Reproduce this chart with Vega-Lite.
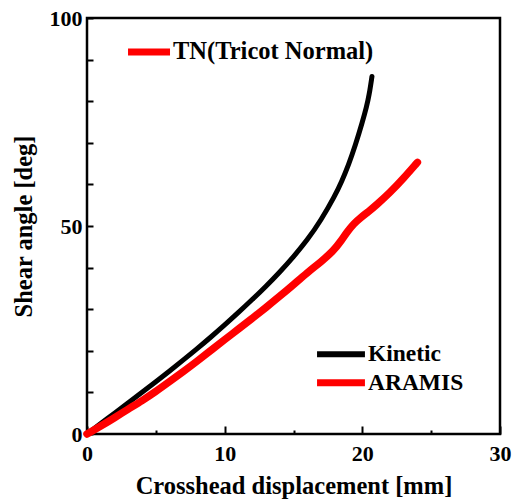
{
  "$schema": "https://vega.github.io/schema/vega-lite/v6.json",
  "width": 413,
  "height": 416,
  "autosize": {"type": "none"},
  "padding": {"left": 87, "top": 18, "right": 12, "bottom": 66},
  "background": "white",
  "config": {
    "view": {"stroke": "black", "strokeWidth": 2.5},
    "font": "Liberation Serif",
    "legend": {"disable": true},
    "axis": {
      "domain": false,
      "grid": false,
      "tickColor": "black",
      "tickWidth": 2,
      "labelColor": "black",
      "labelFont": "Liberation Serif",
      "labelFontSize": 22,
      "labelFontWeight": "bold",
      "titleColor": "black",
      "titleFont": "Liberation Serif",
      "titleFontSize": 24.5,
      "titleFontWeight": "bold",
      "labelOverlap": false,
      "labelFlush": false
    }
  },
  "datasets": {
    "curves": [
      {"series": "Kinetic", "x": 0, "y": 0},
      {"series": "Kinetic", "x": 1, "y": 2.5},
      {"series": "Kinetic", "x": 2, "y": 5.0},
      {"series": "Kinetic", "x": 3, "y": 7.5},
      {"series": "Kinetic", "x": 4, "y": 10.0},
      {"series": "Kinetic", "x": 5, "y": 12.55},
      {"series": "Kinetic", "x": 6, "y": 15.15},
      {"series": "Kinetic", "x": 7, "y": 17.8},
      {"series": "Kinetic", "x": 8, "y": 20.5},
      {"series": "Kinetic", "x": 9, "y": 23.3},
      {"series": "Kinetic", "x": 10, "y": 26.2},
      {"series": "Kinetic", "x": 11, "y": 29.2},
      {"series": "Kinetic", "x": 12, "y": 32.3},
      {"series": "Kinetic", "x": 13, "y": 35.5},
      {"series": "Kinetic", "x": 14, "y": 38.9},
      {"series": "Kinetic", "x": 15, "y": 42.6},
      {"series": "Kinetic", "x": 16, "y": 46.6},
      {"series": "Kinetic", "x": 17, "y": 51.4},
      {"series": "Kinetic", "x": 18, "y": 57.2},
      {"series": "Kinetic", "x": 18.5, "y": 60.7},
      {"series": "Kinetic", "x": 19, "y": 64.7},
      {"series": "Kinetic", "x": 19.5, "y": 69.45},
      {"series": "Kinetic", "x": 20, "y": 74.95},
      {"series": "Kinetic", "x": 20.3, "y": 78.55},
      {"series": "Kinetic", "x": 20.5, "y": 81.55},
      {"series": "Kinetic", "x": 20.7, "y": 85.95},
      {"series": "ARAMIS", "x": 0, "y": 0},
      {"series": "ARAMIS", "x": 1, "y": 1.9},
      {"series": "ARAMIS", "x": 2, "y": 3.9},
      {"series": "ARAMIS", "x": 3, "y": 6.0},
      {"series": "ARAMIS", "x": 4, "y": 8.0},
      {"series": "ARAMIS", "x": 5, "y": 10.2},
      {"series": "ARAMIS", "x": 6, "y": 12.6},
      {"series": "ARAMIS", "x": 7, "y": 15.0},
      {"series": "ARAMIS", "x": 8, "y": 17.5},
      {"series": "ARAMIS", "x": 9, "y": 20.1},
      {"series": "ARAMIS", "x": 10, "y": 22.7},
      {"series": "ARAMIS", "x": 11, "y": 25.2},
      {"series": "ARAMIS", "x": 12, "y": 27.8},
      {"series": "ARAMIS", "x": 13, "y": 30.4},
      {"series": "ARAMIS", "x": 14, "y": 33.1},
      {"series": "ARAMIS", "x": 15, "y": 35.9},
      {"series": "ARAMIS", "x": 16, "y": 38.8},
      {"series": "ARAMIS", "x": 17, "y": 41.4},
      {"series": "ARAMIS", "x": 17.9, "y": 44.0},
      {"series": "ARAMIS", "x": 18.5, "y": 46.6},
      {"series": "ARAMIS", "x": 18.9, "y": 48.6},
      {"series": "ARAMIS", "x": 19.4, "y": 50.6},
      {"series": "ARAMIS", "x": 19.8, "y": 51.8},
      {"series": "ARAMIS", "x": 20.5, "y": 53.6},
      {"series": "ARAMIS", "x": 21, "y": 55.0},
      {"series": "ARAMIS", "x": 22, "y": 58.0},
      {"series": "ARAMIS", "x": 23, "y": 61.5},
      {"series": "ARAMIS", "x": 24, "y": 65.3}
    ],
    "note": [{"label": "TN(Tricot Normal)"}],
    "keyKinetic": [{"label": "Kinetic"}],
    "keyAramis": [{"label": "ARAMIS"}]
  },
  "layer": [
    {
      "data": {"name": "curves"},
      "mark": {"type": "line", "strokeCap": "round", "strokeJoin": "round", "interpolate": "basis"},
      "encoding": {
        "x": {
          "field": "x", "type": "quantitative",
          "scale": {"domain": [0, 30], "nice": false, "zero": false},
          "axis": {
            "title": "Crosshead displacement [mm]",
            "values": [0, 5, 10, 15, 20, 25, 30],
            "labelExpr": "datum.value % 10 === 0 ? datum.label : ''",
            "tickSize": {"condition": {"test": "datum.value % 10 === 0", "value": -8}, "value": -4},
            "labelPadding": 17,
            "titlePadding": 6
          }
        },
        "y": {
          "field": "y", "type": "quantitative",
          "scale": {"domain": [0, 100], "nice": false, "zero": false},
          "axis": {
            "title": "Shear angle [deg]",
            "values": [0, 10, 20, 30, 40, 50, 60, 70, 80, 90, 100],
            "labelExpr": "datum.value % 50 === 0 ? datum.label : ''",
            "tickSize": -6,
            "labelPadding": 11,
            "titlePadding": 13
          }
        },
        "color": {
          "field": "series", "type": "nominal",
          "scale": {"domain": ["Kinetic", "ARAMIS"], "range": ["black", "#ff0000"]}
        },
        "strokeWidth": {
          "field": "series", "type": "nominal",
          "scale": {"domain": ["Kinetic", "ARAMIS"], "range": [5, 7.5]}
        }
      }
    },
    {
      "data": {"name": "note"},
      "mark": {"type": "rule", "color": "#ff0000", "strokeWidth": 7, "strokeCap": "butt"},
      "encoding": {
        "x": {"datum": 2.98},
        "x2": {"datum": 6.03},
        "y": {"datum": 91.8}
      }
    },
    {
      "data": {"name": "note"},
      "mark": {"type": "text", "align": "left", "baseline": "middle", "fontSize": 24.5, "fontWeight": "bold", "font": "Liberation Serif", "color": "black", "dx": 3},
      "encoding": {
        "x": {"datum": 6.03},
        "y": {"datum": 91.8},
        "text": {"field": "label"}
      }
    },
    {
      "data": {"name": "keyKinetic"},
      "mark": {"type": "rule", "strokeWidth": 6, "strokeCap": "butt"},
      "encoding": {
        "x": {"datum": 16.71},
        "x2": {"datum": 20.19},
        "y": {"datum": 19.2},
        "color": {"datum": "Kinetic"}
      }
    },
    {
      "data": {"name": "keyKinetic"},
      "mark": {"type": "text", "align": "left", "baseline": "middle", "fontSize": 23.5, "fontWeight": "bold", "font": "Liberation Serif", "color": "black", "dx": 3},
      "encoding": {
        "x": {"datum": 20.19},
        "y": {"datum": 19.2},
        "text": {"field": "label"}
      }
    },
    {
      "data": {"name": "keyAramis"},
      "mark": {"type": "rule", "strokeWidth": 7, "strokeCap": "butt"},
      "encoding": {
        "x": {"datum": 16.71},
        "x2": {"datum": 20.19},
        "y": {"datum": 12.3},
        "color": {"datum": "ARAMIS"}
      }
    },
    {
      "data": {"name": "keyAramis"},
      "mark": {"type": "text", "align": "left", "baseline": "middle", "fontSize": 23.5, "fontWeight": "bold", "font": "Liberation Serif", "color": "black", "dx": 3},
      "encoding": {
        "x": {"datum": 20.19},
        "y": {"datum": 12.3},
        "text": {"field": "label"}
      }
    }
  ]
}
